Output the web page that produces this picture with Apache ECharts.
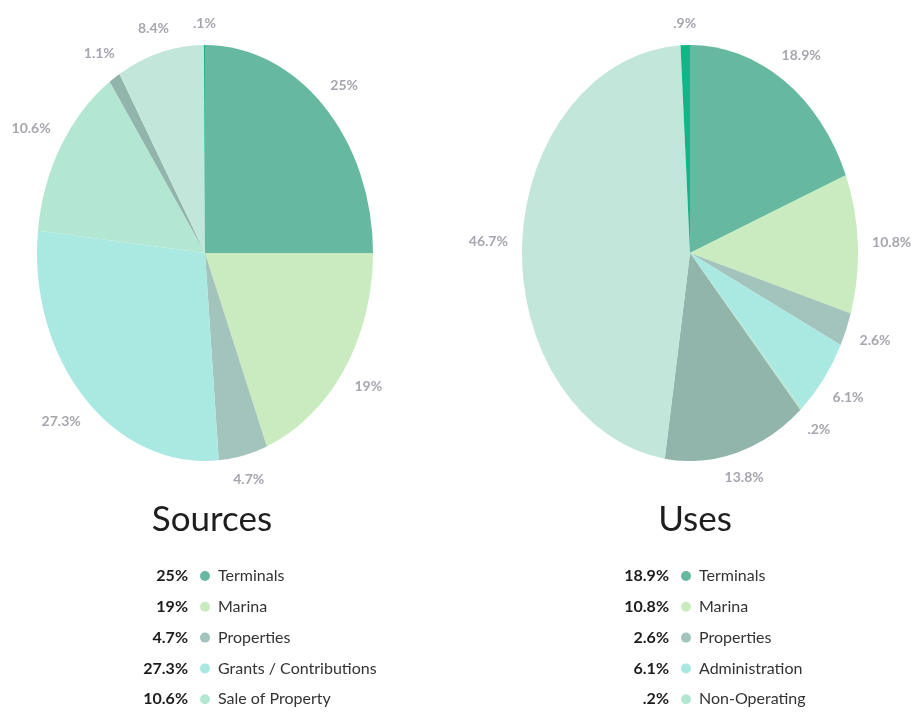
<!DOCTYPE html>
<html>
<head>
<meta charset="utf-8">
<script src="https://cdn.jsdelivr.net/npm/echarts@6/dist/echarts.min.js"></script>
<style>
  html, body { margin:0; padding:0; background:#fff; overflow:hidden; }
  #wrap { position:relative; width:923px; height:713px; }
  .ellipse { position:absolute; width:440px; height:440px; top:33px; transform:scaleX(0.8077); transform-origin:50% 50%; }
  #main { position:absolute; left:0; top:0; width:923px; height:713px; }
</style>
</head>
<body>
<div id="wrap">
  <div id="pieL" class="ellipse" style="left:-15px"></div>
  <div id="pieR" class="ellipse" style="left:470px"></div>
  <div id="main"></div>
</div>
<script>
// Sources: slice sizes as drawn (the printed labels add up to 96.2)
var sourceNames  = ['Terminals', 'Marina', 'Properties', 'Grants / Contributions', 'Sale of Property', 'Other 1', 'Other 2', 'Other 3'];
var sourceShares = [25, 19, 4.7, 28.0, 13.7, 1.1, 8.4, 0.1];
var sourceLabels = ['25%', '19%', '4.7%', '27.3%', '10.6%', '1.1%', '8.4%', '.1%'];

// Uses
var useNames  = ['Terminals', 'Marina', 'Properties', 'Administration', 'Non-Operating', 'Other 1', 'Other 2', 'Other 3'];
var useShares = [18.9, 10.8, 2.6, 6.1, 0.2, 13.8, 46.7, 0.9];
var useLabels = ['18.9%', '10.8%', '2.6%', '6.1%', '.2%', '13.8%', '46.7%', '.9%'];

var legendCount = 5;   // first five slices are listed under each pie

var sliceColors = ['#66b9a0', '#c9ebbf', '#a3c4bc', '#a9e9e1', '#b4e7d3', '#91b5ab', '#c3e6db', '#12b585'];

var RX = 168, RY = 208;   // ellipse half axes
var pies = [
    {cx: 205, cy: 253, names: sourceNames, shares: sourceShares, labels: sourceLabels, title: 'Sources', titleX: 207, legX: 205},
    {cx: 690, cy: 253, names: useNames, shares: useShares, labels: useLabels, title: 'Uses', titleX: 690, legX: 686}
];

function buildData(p, transparent){
    return p.names.map(function (n, i) {
        return {
            name: n,
            value: p.shares[i],
            itemStyle: {color: transparent ? 'rgba(0,0,0,0)' : sliceColors[i]}
        };
    });
}

function midAngles(shares){
    var total = 0, acc = 0;
    shares.forEach(function (v) { total += v; });
    return shares.map(function (v) {
        var m = (acc + v / 2) / total * Math.PI * 2;
        acc += v;
        return m;
    });
}
pies.forEach(function (p) { p.mids = midAngles(p.shares); });

// the coloured pies, squeezed sideways into ellipses by css
['pieL', 'pieR'].forEach(function (id, k) {
    var c = echarts.init(document.getElementById(id), null, {renderer: 'svg'});
    c.setOption({
        animation: false,
        series: [{
            type: 'pie',
            radius: RY,
            center: ['50%', '50%'],
            startAngle: 90,
            silent: true,
            label: {show: false},
            labelLine: {show: false},
            itemStyle: {borderWidth: 0},
            data: buildData(pies[k], false)
        }]
    });
});

// texts on top: percent labels, titles, legends
var mainChart = echarts.init(document.getElementById('main'));
var GAP = 14;

var graphics = [];
pies.forEach(function (p) {
    for (var i = 0; i < legendCount; i++) {
        var y = 576 + i * 30.8;
        graphics.push({
            type: 'text', x: p.legX - 17, y: y,
            style: {text: p.labels[i], align: 'right', verticalAlign: 'middle', fontFamily: 'Lato', fontWeight: 'bold', fontSize: 16, fill: '#1c1c1c'}
        });
        graphics.push({
            type: 'circle', shape: {cx: p.legX, cy: y, r: 5},
            style: {fill: sliceColors[i]}
        });
        graphics.push({
            type: 'text', x: p.legX + 13, y: y,
            style: {text: p.names[i], align: 'left', verticalAlign: 'middle', fontFamily: 'Lato', fontSize: 16, fill: '#333'}
        });
    }
});

var opts = {
    animation: false,
    title: pies.map(function (p) {
        return {
            text: p.title,
            left: p.titleX,
            top: 497,
            textAlign: 'center',
            textStyle: {fontFamily: 'Lato', fontWeight: 'normal', fontSize: 35, color: '#1e1e1e'}
        };
    }),
    graphic: graphics,
    series: pies.map(function (p) {
        return {
            type: 'pie',
            radius: RY,
            center: [p.cx, p.cy],
            startAngle: 90,
            silent: true,
            avoidLabelOverlap: false,
            itemStyle: {borderWidth: 0},
            label: {
                show: true,
                position: 'outside',
                formatter: function (param) { return p.labels[param.dataIndex]; },
                fontFamily: 'Lato',
                fontWeight: 'bold',
                fontSize: 14,
                color: '#a6a6ae'
            },
            labelLine: {show: false},
            labelLayout: function (param) {
                var t = p.mids[param.dataIndex];
                var s = Math.sin(t), c = Math.cos(t);
                var off = GAP + Math.abs(s) * param.labelRect.width / 2 + Math.abs(c) * param.labelRect.height / 2;
                return {
                    x: p.cx + RX * s + off * s,
                    y: p.cy - RY * c - off * c,
                    align: 'center',
                    verticalAlign: 'middle'
                };
            },
            data: buildData(p, true)
        };
    })
};

mainChart.setOption(opts);
</script>
</body>
</html>
